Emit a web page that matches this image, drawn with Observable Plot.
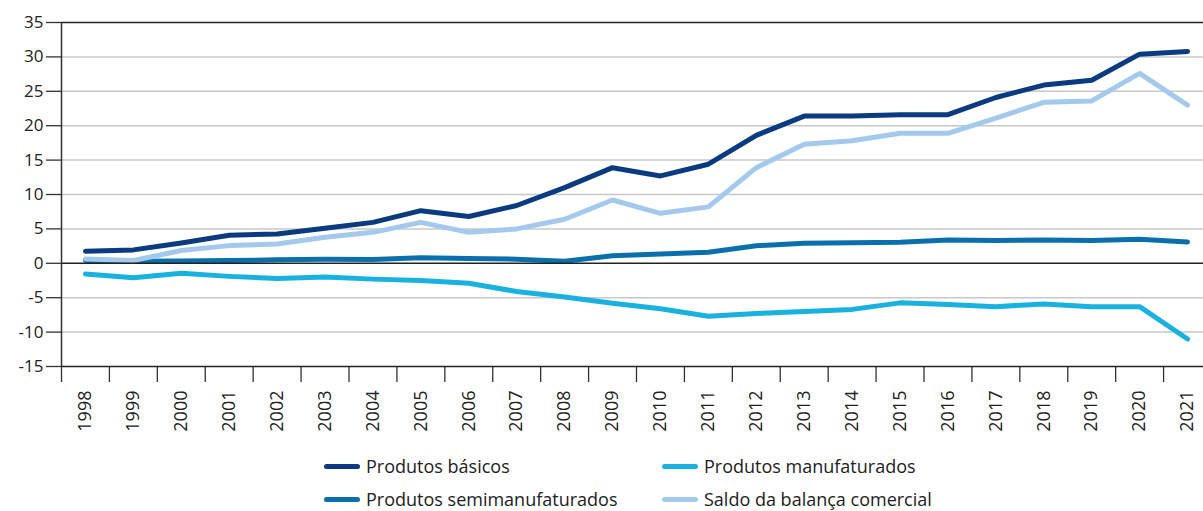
<!DOCTYPE html>
<html>
<head>
<meta charset="utf-8">
<script src="https://cdn.jsdelivr.net/npm/d3@7"></script>
<script src="https://cdn.jsdelivr.net/npm/@observablehq/plot@0.6"></script>
<style>
  html, body { margin: 0; padding: 0; background: #fff; overflow: hidden; }
  #wrap { position: relative; width: 1203px; height: 511px; font-family: "Open Sans", sans-serif; }
  .leg { position: absolute; display: flex; align-items: center; font-size: 18px; line-height: 1; color: #222; white-space: nowrap; }
  .sw { width: 36px; height: 5px; border-radius: 3px; margin-right: 6px; }
</style>
</head>
<body>
<div id="wrap"></div>
<script>
const years = [1998,1999,2000,2001,2002,2003,2004,2005,2006,2007,2008,2009,2010,2011,2012,2013,2014,2015,2016,2017,2018,2019,2020,2021];
const basicos = [1.75,1.95,2.95,4.07,4.27,5.1,5.95,7.65,6.8,8.4,11.0,13.9,12.7,14.4,18.6,21.4,21.4,21.6,21.6,24.1,25.9,26.6,30.4,30.8];
const manufaturados = [-1.55,-2.1,-1.45,-1.9,-2.2,-2.0,-2.3,-2.5,-2.9,-4.1,-4.9,-5.8,-6.6,-7.7,-7.3,-7.0,-6.7,-5.75,-6.0,-6.3,-5.9,-6.3,-6.3,-11.0];
const semimanufaturados = [0.4,0.3,0.35,0.4,0.5,0.6,0.55,0.8,0.7,0.6,0.3,1.1,1.35,1.6,2.55,2.9,3.0,3.05,3.4,3.3,3.4,3.3,3.5,3.1];
const saldo = [0.64,0.4,1.85,2.57,2.8,3.8,4.5,5.95,4.5,5.0,6.4,9.2,7.26,8.2,13.9,17.3,17.8,18.9,18.9,21.1,23.4,23.6,27.6,23.0];
const seriesNames = ["Produtos básicos","Produtos manufaturados","Produtos semimanufaturados","Saldo da balança comercial"];
const seriesColors = ["#0a3a80","#19b1e0","#0a70ad","#a3c9ec"];
const yTicks = [-15,-10,-5,0,5,10,15,20,25,30,35];

const seriesValues = [basicos, manufaturados, semimanufaturados, saldo];
const rows = [];
seriesNames.forEach((name, i) => years.forEach((yr, j) => rows.push({series: name, year: yr, value: seriesValues[i][j]})));
const drawOrder = ["Produtos manufaturados","Produtos semimanufaturados","Saldo da balança comercial","Produtos básicos"];
const boundaries = years.map(y => y - 0.5);
const dark = new Set([-15, 0, 35]);

const plot = Plot.plot({
  width: 1203,
  height: 511,
  marginLeft: 61,
  marginRight: 0,
  marginTop: 22,
  marginBottom: 145,
  style: {fontFamily: "'Open Sans', sans-serif", fontSize: "17px", color: "#222", background: "#fff"},
  x: {domain: [years[0] - 0.5, years[years.length - 1] + 0.5], range: [61, 1211]},
  y: {domain: [-15, 35]},
  marks: [
    Plot.ruleY(yTicks.filter(d => !dark.has(d)), {stroke: "#c8c8c8", strokeWidth: 1.5}),
    Plot.axisY({ticks: yTicks, tickSize: 15, tickPadding: 3, fontSize: 17, stroke: "#333", strokeWidth: 1.3, label: null, tickFormat: d => String(d)}),
    Plot.axisX({ticks: boundaries, tickSize: 16, tickFormat: () => "", stroke: "#333", strokeWidth: 1.3, label: null}),
    Plot.axisX({ticks: years, tickSize: 0, tickPadding: 24, tickRotate: -90, fontSize: 18, label: null, tickFormat: d => String(d)}),
    ...drawOrder.map(name => Plot.line(rows.filter(r => r.series === name), {
      x: "year", y: "value", stroke: seriesColors[seriesNames.indexOf(name)], strokeWidth: 5,
      strokeLinecap: "round", strokeLinejoin: "round"
    })),
    Plot.ruleY(yTicks.filter(d => dark.has(d)), {stroke: "#222", strokeWidth: 1.5}),
    Plot.ruleX([boundaries[0]], {stroke: "#333", strokeWidth: 1.5})
  ]
});
const wrap = document.getElementById("wrap");
wrap.appendChild(plot);

const legPos = [[324, 466], [662, 466], [324, 499], [662, 499]];
seriesNames.forEach((name, i) => {
  const d = document.createElement("div");
  d.className = "leg";
  d.style.left = legPos[i][0] + "px";
  d.style.top = (legPos[i][1] - 11) + "px";
  d.style.height = "22px";
  d.innerHTML = `<span class="sw" style="background:${seriesColors[i]}"></span><span>${name}</span>`;
  wrap.appendChild(d);
});
</script>
</body>
</html>
